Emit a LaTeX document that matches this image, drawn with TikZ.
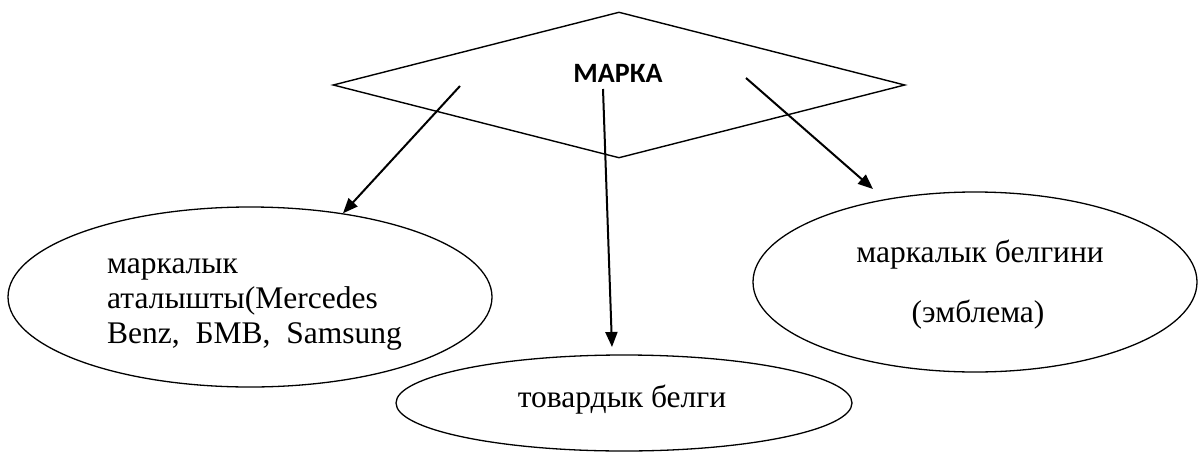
\documentclass[tikz,border=0pt]{standalone}
\usepackage{fontspec}
\setmainfont{Liberation Serif}
\newfontfamily\carl{Carlito}
\usetikzlibrary{shapes.geometric,arrows.meta}
\begin{document}
\begin{tikzpicture}[x=1pt,y=-1pt,
  ell/.style={draw,ellipse,line width=1.3pt,inner sep=0pt},
  conn/.style={line width=2pt,-{Triangle[length=15pt,width=12pt]}},
  txt/.style={font=\fontsize{31.5}{35}\selectfont,inner sep=0pt}]
\useasboundingbox (0,0) rectangle (1201,455);
\node[draw,diamond,line width=1.4pt,minimum width=572pt,minimum height=146pt,inner sep=0pt] (dia) at (619,85) {};
\node[inner sep=0pt,anchor=base,font=\carl\bfseries\fontsize{28}{32}\selectfont] (marka) at (618,82) {МАРКА};
\node[ell,minimum width=484pt,minimum height=180pt] (lell) at (250,297) {};
\node[ell,minimum width=444pt,minimum height=180pt] (rell) at (975,282) {};
\node[ell,minimum width=456pt,minimum height=96pt] (bell) at (624,403) {};
\node[txt,anchor=base west] (l1) at (107,273) {маркалык};
\node[txt,anchor=base west] (l2) at (107,308) {аталышты(Mercedes};
\node[txt,anchor=base west] (l3) at (107,343) {Benz,\ \ БМВ,\ \ Samsung};
\node[txt,anchor=base] (r1) at (980,262) {маркалык белгини};
\node[txt,anchor=base] (r2) at (978,322) {(эмблема)};
\node[txt,anchor=base] (btxt) at (622,407) {товардык белги};
\coordinate (s1) at (460,86);
\coordinate (s2) at (603,89);
\coordinate (s3) at (746,78);
\coordinate (e2) at (612,347);
\coordinate (e3) at (873,189);
\draw[conn] (s1) -- (lell.42);
\draw[conn] (s2) -- (e2);
\draw[conn] (s3) -- (e3);
\end{tikzpicture}
\end{document}
